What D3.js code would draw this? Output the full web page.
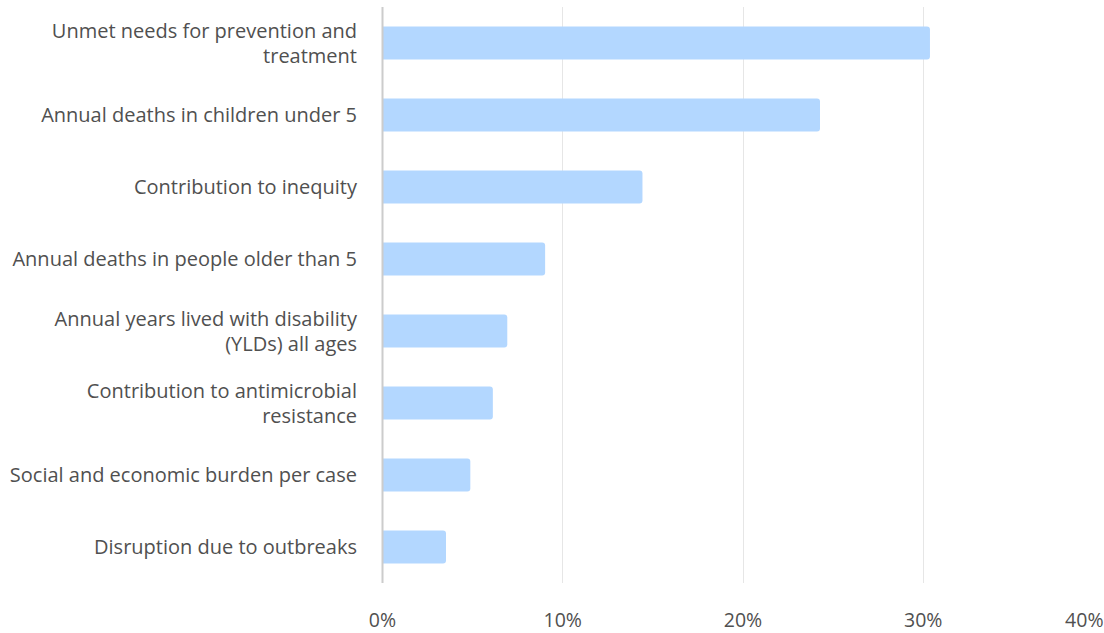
<!DOCTYPE html>
<html>
<head>
<meta charset="utf-8">
<script src="https://cdn.jsdelivr.net/npm/d3@7"></script>
<style>
  html, body { margin: 0; padding: 0; background: #fff; }
  svg { display: block; font-family: "Open Sans", "Noto Sans", sans-serif; }
</style>
</head>
<body>
<svg id="chart" width="1104" height="633"></svg>
<script>
// Burden criteria and their weights (percent)
const categories = [
  ["Unmet needs for prevention and", "treatment"],
  ["Annual deaths in children under 5"],
  ["Contribution to inequity"],
  ["Annual deaths in people older than 5"],
  ["Annual years lived with disability", "(YLDs) all ages"],
  ["Contribution to antimicrobial", "resistance"],
  ["Social and economic burden per case"],
  ["Disruption due to outbreaks"]
];
const weights = [30.4, 24.3, 14.45, 9.05, 6.95, 6.15, 4.9, 3.55];
const tickValues = [0, 10, 20, 30, 40];

const svg = d3.select("#chart");
const margin = { top: 7, right: 1, bottom: 50, left: 382 };
const width = 1104, height = 633;

const x = d3.scaleLinear().domain([0, 40]).range([margin.left, width - margin.right]);
const y = d3.scaleBand()
  .domain(d3.range(categories.length))
  .range([margin.top, height - margin.bottom])
  .paddingInner(0.54)
  .paddingOuter(0.27);

// vertical gridlines (the last one falls on the right edge and is not drawn)
svg.append("g")
  .selectAll("line")
  .data(tickValues.filter(d => d > 0 && d < 40))
  .join("line")
  .attr("x1", d => Math.round(x(d)) + 0.5)
  .attr("x2", d => Math.round(x(d)) + 0.5)
  .attr("y1", margin.top)
  .attr("y2", height - margin.bottom)
  .attr("stroke", "#e6e6e6")
  .attr("stroke-width", 1);

// bars
const r = 3;
svg.append("g")
  .selectAll("path")
  .data(weights)
  .join("path")
  .attr("fill", "#b3d7ff")
  .attr("d", (d, i) => {
    const x0 = x(0) + 1, x1 = x(d), y0 = y(i), h = y.bandwidth();
    return `M${x0},${y0} H${x1 - r} Q${x1},${y0} ${x1},${y0 + r} V${y0 + h - r} Q${x1},${y0 + h} ${x1 - r},${y0 + h} H${x0} Z`;
  });

// zero axis line
svg.append("line")
  .attr("x1", Math.round(x(0)) + 0.5)
  .attr("x2", Math.round(x(0)) + 0.5)
  .attr("y1", margin.top)
  .attr("y2", height - margin.bottom)
  .attr("stroke", "#cccccc")
  .attr("stroke-width", 2);

// category labels
const lineH = 25;
const labels = svg.append("g")
  .attr("font-size", 20)
  .attr("fill", "#505050")
  .attr("text-anchor", "end");
categories.forEach((lines, i) => {
  const cy = y(i) + y.bandwidth() / 2;
  const t = labels.append("text")
    .attr("x", 357)
    .attr("y", cy - (lines.length - 1) * lineH / 2);
  lines.forEach((ln, j) => {
    t.append("tspan")
      .attr("x", 357)
      .attr("dy", j === 0 ? "0.35em" : lineH)
      .text(ln);
  });
});

// x axis tick labels
const xAxis = d3.axisBottom(x)
  .tickValues(tickValues)
  .tickFormat(d => d + "%")
  .tickSize(0)
  .tickPadding(0);
const gx = svg.append("g")
  .attr("transform", `translate(0, ${height - 13})`)
  .call(xAxis);
gx.select(".domain").remove();
gx.selectAll("text")
  .attr("font-family", "'Open Sans', 'Noto Sans', sans-serif")
  .attr("font-size", 19.5)
  .attr("fill", "#505050")
  .attr("dy", "0.35em")
  .attr("text-anchor", d => d === 40 ? "end" : "middle");
</script>
</body>
</html>
